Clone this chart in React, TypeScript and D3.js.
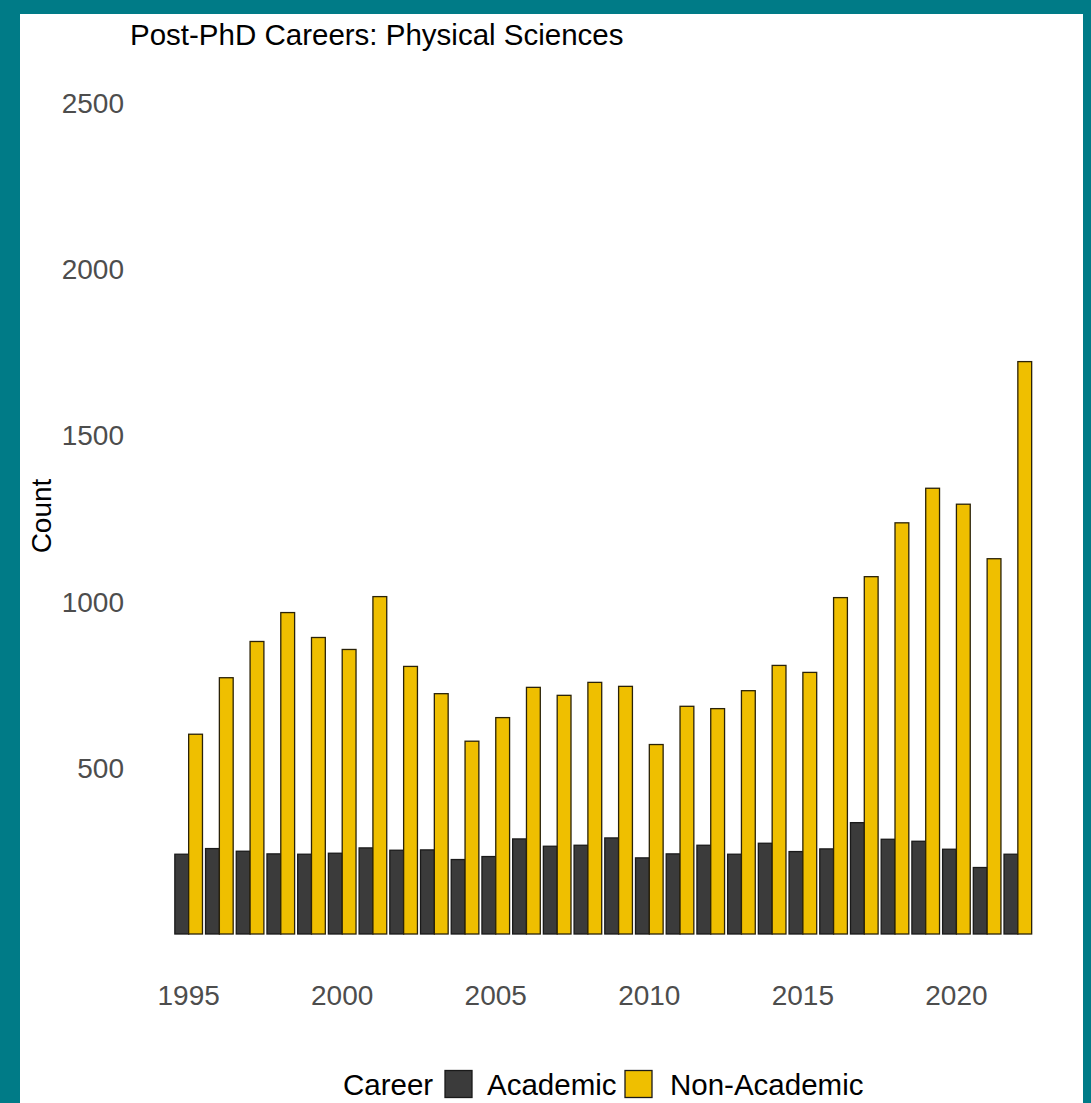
import { useEffect, useRef } from 'react';
import * as d3 from 'd3';

const years = d3.range(1995, 2023);
const academic = [
  240, 257, 249, 241, 240, 243, 259, 252, 253, 224, 233, 286, 264, 267,
  289, 229, 241, 267, 240, 273, 248, 256, 335, 285, 279, 255, 200, 240,
];
const nonAcademic = [
  601, 771, 880, 967, 892, 856, 1015, 805, 723, 580, 651, 742, 718, 757,
  745, 570, 685, 678, 732, 808, 787, 1012, 1075, 1237, 1341, 1293, 1129, 1722,
];
const careers = ['Academic', 'Non-Academic'];
const careerColors = ['#3b3b3b', '#efbf00'];
const yTicks = [500, 1000, 1500, 2000, 2500];
const xTicks = [1995, 2000, 2005, 2010, 2015, 2020];

const W = 1091;
const H = 1103;

export default function App() {
  const svgRef = useRef<SVGSVGElement>(null);

  useEffect(() => {
    if (!svgRef.current) return;
    const svg = d3.select(svgRef.current);
    svg.selectAll('*').remove();

    const font = 'Liberation Sans, Arial, sans-serif';

    // teal frame + white card
    svg.append('rect').attr('width', W).attr('height', H).attr('fill', '#007b87');
    svg.append('rect').attr('x', 20).attr('y', 14).attr('width', 1063).attr('height', H - 14).attr('fill', '#ffffff');

    const x = d3.scaleLinear().domain([1994.5, 2022.5]).range([173.3, 1033.2]);
    const y = d3.scaleLinear().domain([0, 2500]).range([934, 103]);

    const half = 0.45;
    const g = svg.append('g');

    // bars
    const rows = years.map((yr, i) => ({ yr, a: academic[i], n: nonAcademic[i] }));
    g.selectAll('rect.acad')
      .data(rows)
      .enter()
      .append('rect')
      .attr('class', 'acad')
      .attr('x', (d) => x(d.yr - half))
      .attr('width', (d) => x(d.yr) - x(d.yr - half))
      .attr('y', (d) => y(d.a))
      .attr('height', (d) => y(0) - y(d.a))
      .attr('fill', careerColors[0])
      .attr('stroke', '#1a1a1a')
      .attr('stroke-width', 1.3);

    g.selectAll('rect.nonacad')
      .data(rows)
      .enter()
      .append('rect')
      .attr('class', 'nonacad')
      .attr('x', (d) => x(d.yr))
      .attr('width', (d) => x(d.yr + half) - x(d.yr))
      .attr('y', (d) => y(d.n))
      .attr('height', (d) => y(0) - y(d.n))
      .attr('fill', careerColors[1])
      .attr('stroke', '#2a2208')
      .attr('stroke-width', 1.3);

    // y tick labels
    svg.selectAll('text.ytick')
      .data(yTicks)
      .enter()
      .append('text')
      .attr('class', 'ytick')
      .attr('x', 124)
      .attr('y', (d) => y(d))
      .attr('dy', '0.36em')
      .attr('text-anchor', 'end')
      .attr('font-family', font)
      .attr('font-size', 28)
      .attr('fill', '#4d4d4d')
      .text((d) => d);

    // x tick labels
    svg.selectAll('text.xtick')
      .data(xTicks)
      .enter()
      .append('text')
      .attr('class', 'xtick')
      .attr('x', (d) => x(d))
      .attr('y', 1005)
      .attr('text-anchor', 'middle')
      .attr('font-family', font)
      .attr('font-size', 28)
      .attr('fill', '#4d4d4d')
      .text((d) => d);

    // title
    svg.append('text')
      .attr('x', 130)
      .attr('y', 45)
      .attr('font-family', font)
      .attr('font-size', 29.5)
      .attr('fill', '#000')
      .text('Post-PhD Careers: Physical Sciences');

    // y axis title
    svg.append('text')
      .attr('transform', 'translate(51,516) rotate(-90)')
      .attr('text-anchor', 'middle')
      .attr('font-family', font)
      .attr('font-size', 28)
      .attr('fill', '#000')
      .text('Count');

    // legend
    const leg = svg.append('g').attr('transform', 'translate(0,1084)');
    leg.append('text')
      .attr('x', 343)
      .attr('dy', '0.36em')
      .attr('font-family', font)
      .attr('font-size', 29.5)
      .attr('fill', '#000')
      .text('Career');
    const keyX = [445, 625];
    const labX = [487, 670];
    careers.forEach((c, i) => {
      leg.append('rect')
        .attr('x', keyX[i])
        .attr('y', -13.5)
        .attr('width', 27)
        .attr('height', 27)
        .attr('fill', careerColors[i])
        .attr('stroke', '#1a1a1a')
        .attr('stroke-width', 1.3);
      leg.append('text')
        .attr('x', labX[i])
        .attr('dy', '0.36em')
        .attr('font-family', font)
        .attr('font-size', 29.5)
        .attr('fill', '#000')
        .text(c);
    });
  }, []);

  return (
    <svg
      ref={svgRef}
      width={W}
      height={H}
      style={{ position: 'absolute', left: 0, top: 0, display: 'block' }}
    />
  );
}
